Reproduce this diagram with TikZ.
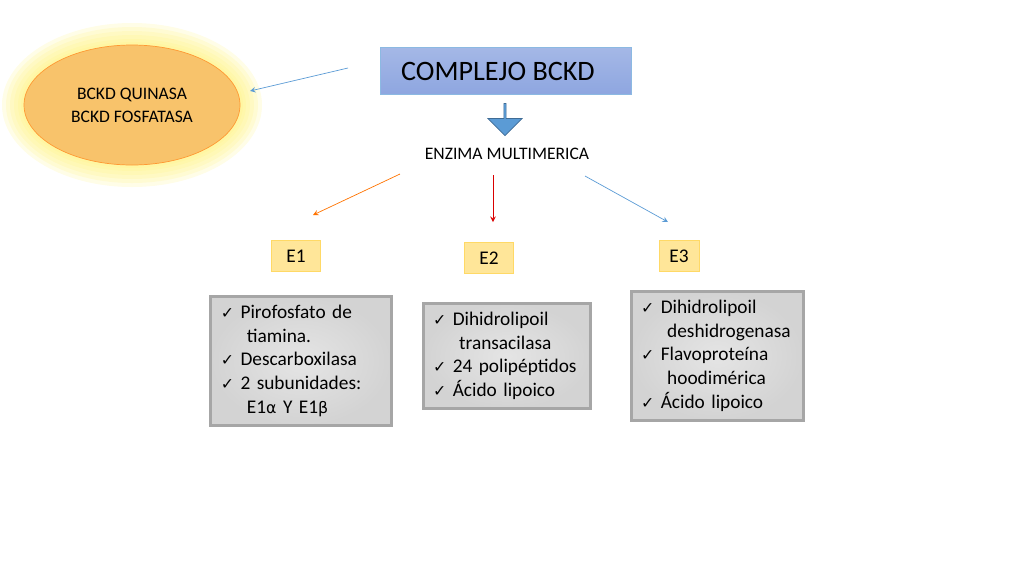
\documentclass[tikz,border=0pt]{standalone}
\usepackage{fontspec}
\setmainfont{Carlito}
\newfontfamily\symfont{DejaVu Sans}
\usetikzlibrary{shapes.geometric,shapes.arrows,positioning}
\definecolor{glowy}{HTML}{FFF27A}
\definecolor{ellor}{HTML}{F8C36B}
\definecolor{titleblue}{HTML}{8EA6E0}
\definecolor{arrblue}{HTML}{5B9BD5}
\definecolor{ebox}{HTML}{FFE699}
\definecolor{eline}{HTML}{FFD966}
\definecolor{gbox}{HTML}{D3D3D3}
\definecolor{gline}{HTML}{A6A6A6}
\newcommand{\ck}{{\symfont\small ✓}\ }
\tikzset{
  ebx/.style={draw=eline, fill=ebox, minimum width=9.8mm, minimum height=6.2mm, font=\fontsize{11}{13}\selectfont},
  listbox/.style={draw=gline, line width=1.5pt, inner color=gbox!60, outer color=gbox, align=left, anchor=north west, inner sep=5pt, font=\fontsize{11}{13.5}\selectfont},
  thinarr/.style={-stealth, thin}
}
\begin{document}
\begin{tikzpicture}[x=0.2mm,y=-0.2mm]
\useasboundingbox (0,0) rectangle (1024,576);
% glow and ellipse
\foreach \s in {22,18,14,10,6,3}
  \fill[glowy, opacity=0.18] (132,105) ellipse ({108+\s} and {60+\s});
\fill[ellor] (132,105) ellipse (108 and 60);
\draw[orange!80] (132,105) ellipse (108 and 60);
\node[align=center, font=\fontsize{10}{13}\selectfont] (kin) at (132,105) {BCKD QUINASA\\BCKD FOSFATASA};
% title
\node[draw=arrblue!70, top color=titleblue!80, bottom color=titleblue, minimum width=50.2mm, minimum height=9.4mm,
  font=\fontsize{16}{18}\selectfont, anchor=north west, inner sep=0pt] (title) at (380,47) {};
\node[font=\fontsize{16}{18}\selectfont] (titletxt) at (498,71) {COMPLEJO BCKD};
\node[single arrow, shape border rotate=270, draw=arrblue!70!black, fill=arrblue, minimum height=6.4mm,
  minimum width=6.8mm, single arrow head extend=1mm, inner sep=0pt] (down) at (505,119) {};
\node[font=\fontsize{10}{12}\selectfont] (enz) at (507,154) {ENZIMA MULTIMERICA};
% E boxes
\node[ebx] (e1) at (296,256) {E1};
\node[ebx] (e2) at (489,258) {E2};
\node[ebx, minimum width=8mm] (e3) at (679,256) {E3};
% connectors
\coordinate (ar1) at (400,174); \coordinate (at1) at (313,215);
\coordinate (ar2) at (493,175); \coordinate (at2) at (493,222);
\coordinate (ar3) at (585,176); \coordinate (at3) at (668,222);
\coordinate (ar4) at (348,68);  \coordinate (at4) at (250,91);
\draw[thinarr, orange!90!red] (ar1) -- (at1);
\draw[thinarr, red!85!black] (ar2) -- (at2);
\draw[thinarr, arrblue] (ar3) -- (at3);
\draw[thinarr, arrblue] (ar4) -- (at4);
% lists
\node[listbox, text width=32mm, minimum width=36.2mm, minimum height=25mm] (l1) at (209,295)
  {\ck Pirofosfato de\\\hspace*{1.35em}tiamina.\\\ck Descarboxilasa\\\ck 2 subunidades:\\\hspace*{1.35em}E1{\symfont\small α} Y E1{\symfont\small β}};
\node[listbox, text width=29.5mm, minimum width=33.4mm, minimum height=20.4mm] (l2) at (422,302)
  {\ck Dihidrolipoil\\\hspace*{1.35em}transacilasa\\\ck 24 polipéptidos\\\ck Ácido lipoico};
\node[listbox, text width=30.5mm, minimum width=34.4mm, minimum height=25mm] (l3) at (630,290)
  {\ck Dihidrolipoil\\\hspace*{1.35em}deshidrogenasa\\\ck Flavoproteína\\\hspace*{1.35em}hoodimérica\\\ck Ácido lipoico};
\end{tikzpicture}
\end{document}
